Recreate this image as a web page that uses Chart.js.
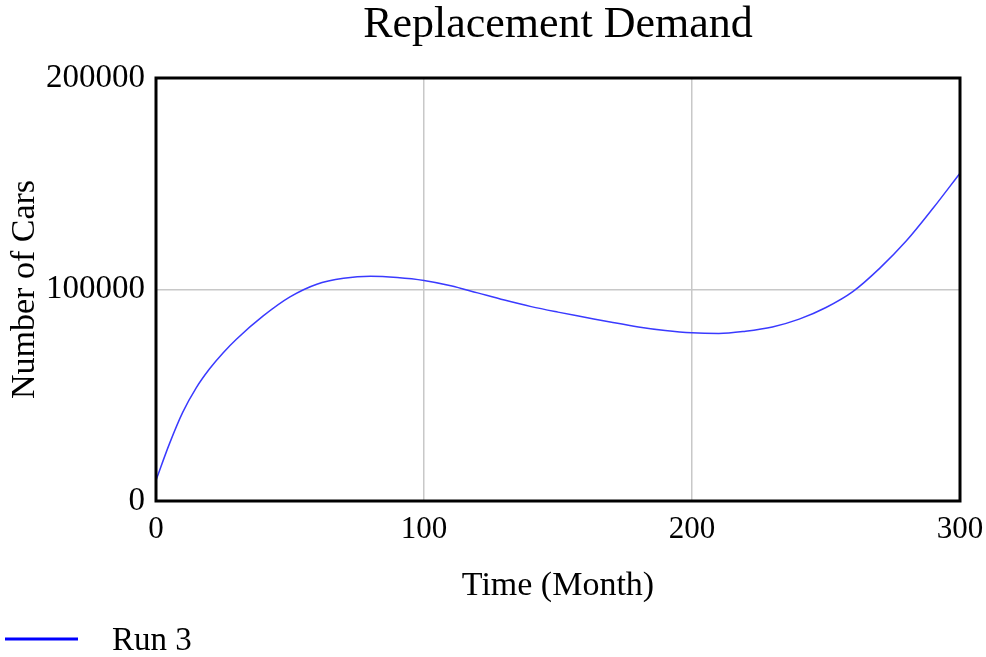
<!DOCTYPE html>
<html>
<head>
<meta charset="utf-8">
<script src="https://cdn.jsdelivr.net/npm/chart.js@4/dist/chart.umd.min.js"></script>
<style>
  html, body { margin: 0; padding: 0; background: #fff; }
  #wrap { width: 986px; height: 657px; }
</style>
</head>
<body>
<div id="wrap"><canvas id="chart" width="986" height="657"></canvas></div>
<script>
const chartTitle = 'Replacement Demand';
const xAxisTitle = 'Time (Month)';
const yAxisTitle = 'Number of Cars';
const seriesLabel = 'Run 3';

const months = [0, 5, 10, 15, 20, 25, 30, 40, 50, 60, 70, 80, 90, 100, 110, 120, 130, 140, 150,
    160, 170, 180, 190, 200, 210, 220, 230, 240, 250, 260, 270, 280, 290, 300];
const cars = [9800, 27000, 42000, 53500, 62500, 70000, 76500, 87500, 96500, 102500, 105300,
    106300, 105700, 104300, 101800, 98400, 95000, 91900, 89300, 86900, 84500, 82300, 80600,
    79500, 79200, 80300, 82300, 86000, 91500, 99000, 110000, 123000, 138500, 155000];

const xTicks = [0, 100, 200, 300];
const yTicks = [0, 100000, 200000];

const SERIF = "'Liberation Serif', 'Times New Roman', serif";
const LINE_BLUE = '#3a3aff';
const GRID = '#c8c8c8';

// title, frame and legend drawn by hand so they sit where the original puts them
const decorations = {
    id: 'decorations',
    afterDraw(chart) {
        const { ctx, chartArea } = chart;
        ctx.save();

        ctx.strokeStyle = '#000';
        ctx.lineWidth = 3;
        ctx.strokeRect(chartArea.left, chartArea.top,
            chartArea.right - chartArea.left, chartArea.bottom - chartArea.top);

        ctx.fillStyle = '#000';
        ctx.font = `44px ${SERIF}`;
        ctx.textAlign = 'center';
        ctx.textBaseline = 'alphabetic';
        ctx.fillText(chartTitle, (chartArea.left + chartArea.right) / 2, 37);

        const ds = chart.data.datasets[0];
        ctx.strokeStyle = 'blue';
        ctx.lineWidth = 3;
        ctx.beginPath();
        ctx.moveTo(5, 639);
        ctx.lineTo(78, 639);
        ctx.stroke();
        ctx.font = `33px ${SERIF}`;
        ctx.textAlign = 'left';
        ctx.fillText(ds.label, 112, 650);

        ctx.restore();
    },
};

new Chart(document.getElementById('chart'), {
    type: 'line',
    data: {
        datasets: [{
            label: seriesLabel,
            data: months.map((m, i) => ({ x: m, y: cars[i] })),
            borderColor: LINE_BLUE,
            borderWidth: 1.5,
            pointRadius: 0,
            cubicInterpolationMode: 'monotone',
            fill: false,
        }],
    },
    options: {
        responsive: false,
        animation: false,
        layout: { padding: { top: 78, right: 26, left: 0, bottom: 0 } },
        plugins: {
            legend: { display: false },
            title: { display: false },
            tooltip: { enabled: false },
        },
        scales: {
            x: {
                type: 'linear',
                min: 0,
                max: 300,
                afterBuildTicks: (scale) => { scale.ticks = xTicks.map((v) => ({ value: v })); },
                afterFit: (scale) => {
                    scale.height = 156;
                    scale.paddingLeft = 0;
                    scale.paddingRight = 0;
                },
                ticks: {
                    color: '#000',
                    font: { family: SERIF, size: 31 },
                    padding: 10,
                    maxRotation: 0,
                    callback: (v) => String(v),
                },
                grid: { color: GRID, lineWidth: 1.5, drawTicks: false },
                border: { display: false },
                title: {
                    display: true,
                    text: xAxisTitle,
                    color: '#000',
                    font: { family: SERIF, size: 34 },
                    padding: { top: 0, bottom: 51 },
                },
            },
            y: {
                type: 'linear',
                min: 0,
                max: 200000,
                afterBuildTicks: (scale) => { scale.ticks = yTicks.map((v) => ({ value: v })); },
                afterFit: (scale) => {
                    scale.width = 156;
                    scale.paddingTop = 0;
                    scale.paddingBottom = 0;
                },
                ticks: {
                    color: '#000',
                    font: { family: SERIF, size: 33 },
                    padding: 11,
                    callback: (v) => String(v),
                },
                grid: { color: GRID, lineWidth: 1.5, drawTicks: false },
                border: { display: false },
                title: {
                    display: true,
                    text: yAxisTitle,
                    color: '#000',
                    font: { family: SERIF, size: 34 },
                    padding: { top: 5, bottom: 0 },
                },
            },
        },
    },
    plugins: [decorations],
});
</script>
</body>
</html>
